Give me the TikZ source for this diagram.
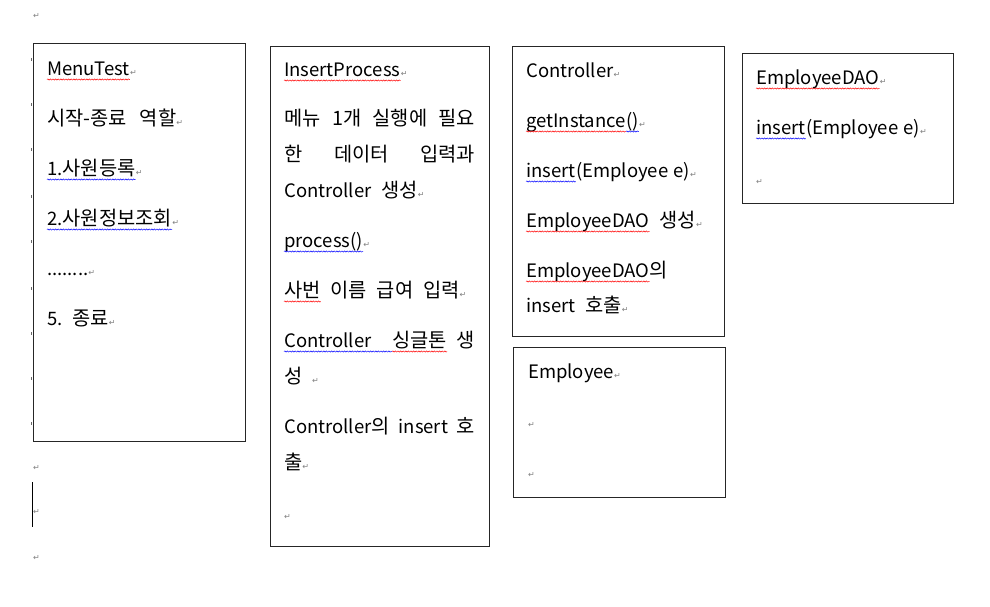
\documentclass[tikz,border=0pt]{standalone}
\usepackage{fontspec}
\setmainfont{Noto Sans CJK KR}[WordSpace=1.3]
\newfontfamily\krfont{Noto Sans CJK KR}[Scale=1.07, WordSpace=2.2]
\newfontfamily\markfont{DejaVu Sans}
\usepackage{xcolor}
\usepackage{tikz}
\usetikzlibrary{decorations.pathmorphing,positioning}

\newcommand\pmk{{\markfont\color{black!50}\fontsize{8}{8}\selectfont ↵}}
\newcommand\kr[1]{{\krfont #1}}

\begin{document}
\begin{tikzpicture}[x=1pt,y=-1pt]

\tikzstyle{txt}=[anchor=base west, inner sep=0pt, font=\fontsize{18.5}{20}\selectfont]
\tikzstyle{boxline}=[draw=black!85, line width=0.9pt]
\tikzstyle{redwave}=[draw=red, line width=0.5pt, decorate,
    decoration={snake, amplitude=0.6pt, segment length=2.6pt}]
\tikzstyle{bluewave}=[redwave, draw=blue]

\useasboundingbox[fill=white] (0,0) rectangle (990,606);

% loose paragraph marks, cursor and margin ticks
\node[txt] (m0) at (33,18) {\pmk};
\node[txt] (m1) at (33,470) {\pmk};
\node[txt] (m2) at (33,514) {\pmk};
\node[txt] (m3) at (33,560) {\pmk};
\draw[line width=0.8pt] (32,482) -- (32,527);
\foreach \y in {58,103,148,195,240,287,332,377,422}
    \draw[black!60, line width=0.6pt] (31.5,\y) -- (31.5,\y+3);

% MenuTest
\draw[boxline] (33,43) rectangle (245,441);
\node[txt] (menu) at (47,75) {MenuTest};
\node[txt] at (menu.base east) {\pmk};
\node[txt] (role) at (47,125) {\kr{시작-종료\hspace{13pt}역할}\pmk};
\node[txt] (reg) at (47,175) {1.\kr{사원등록}};
\node[txt] at (reg.base east) {\pmk};
\node[txt] (view) at (47,225) {2.\kr{사원정보조회}};
\node[txt] at (view.base east) {\pmk};
\node[txt] (dots) at (47,275) {........\pmk};
\node[txt] (quit) at (47,325) {5.\kr{\ 종료}\pmk};

% InsertProcess
\draw[boxline] (270,46) rectangle (489,546);
\node[txt] (ip) at (284,76) {InsertProcess};
\node[txt] at (ip.base east) {\pmk};
\node[txt] (need) at (284,125) {\kr{\hbox to 191pt{메뉴\hfill 1개\hfill 실행에\hfill 필요}}};
\node[txt] (input) at (284,161) {\kr{\hbox to 191pt{한\hfill 데이터\hfill 입력과}}};
\node[txt] (make) at (284,197) {Controller\kr{\ 생성}\pmk};
\node[txt] (proc) at (284,247) {process()};
\node[txt] at (proc.base east) {\pmk};
\node[txt] (sab) at (284,297) {\kr{사번}};
\node[txt] (pay) at (sab.base east) {\kr{\ 이름 급여 입력}\pmk};
\node[txt] (ctl) at (284,347) {Controller};
\node[txt] (sgt) at (392,347) {\kr{싱글톤}};
\node[txt, anchor=base east] (sng) at (475,347) {\kr{생}};
\node[txt] (seong) at (284,383) {\kr{성\ }\pmk};
\node[txt] (call) at (284,433) {\hbox to 191pt{Controller\kr{의}\hfill insert\hfill \kr{호}}};
\node[txt] (chul) at (284,469) {\kr{출}\pmk};
\node[txt] (m4) at (284,519) {\pmk};

% Controller
\draw[boxline] (512,46) rectangle (724,336);
\node[txt] (ctl2) at (526,77) {Controller\pmk};
\node[txt] (gi) at (526,127) {getInstance};
\node[txt] (gip) at (gi.base east) {()};
\node[txt] at (gip.base east) {\pmk};
\node[txt] (ins) at (526,177) {insert};
\node[txt] at (ins.base east) {(Employee e)\pmk};
\node[txt] (dao) at (526,227) {EmployeeDAO};
\node[txt] at (dao.base east) {\kr{\ 생성}\pmk};
\node[txt] (dao2) at (526,277) {EmployeeDAO};
\node[txt] at (dao2.base east) {\kr{의}};
\node[txt] (call2) at (526,312) {insert\kr{\ 호출}\pmk};

% Employee
\draw[boxline] (513,347) rectangle (725,497);
\node[txt] (emp) at (528,378) {Employee\pmk};
\node[txt] (m5) at (528,427) {\pmk};
\node[txt] (m6) at (528,477) {\pmk};

% EmployeeDAO
\draw[boxline] (742,53) rectangle (953,203);
\node[txt] (dao3) at (756,84) {EmployeeDAO};
\node[txt] at (dao3.base east) {\pmk};
\node[txt] (ins2) at (756,134) {insert};
\node[txt] at (ins2.base east) {(Employee e)\pmk};
\node[txt] (m7) at (756,184) {\pmk};

% spell check waves
\foreach \n in {menu,ip,sab,sgt,gi,dao,dao2,dao3}
    \draw[redwave] ([yshift=-4.5pt]\n.base west) -- ([yshift=-4.5pt]\n.base east);
\foreach \n in {reg,view,proc,gip,ins,ins2}
    \draw[bluewave] ([yshift=-4.5pt]\n.base west) -- ([yshift=-4.5pt]\n.base east);
\draw[bluewave] ([yshift=-4.5pt]ctl.base west) -- ([yshift=-4.5pt]sgt.base west);

\end{tikzpicture}
\end{document}
